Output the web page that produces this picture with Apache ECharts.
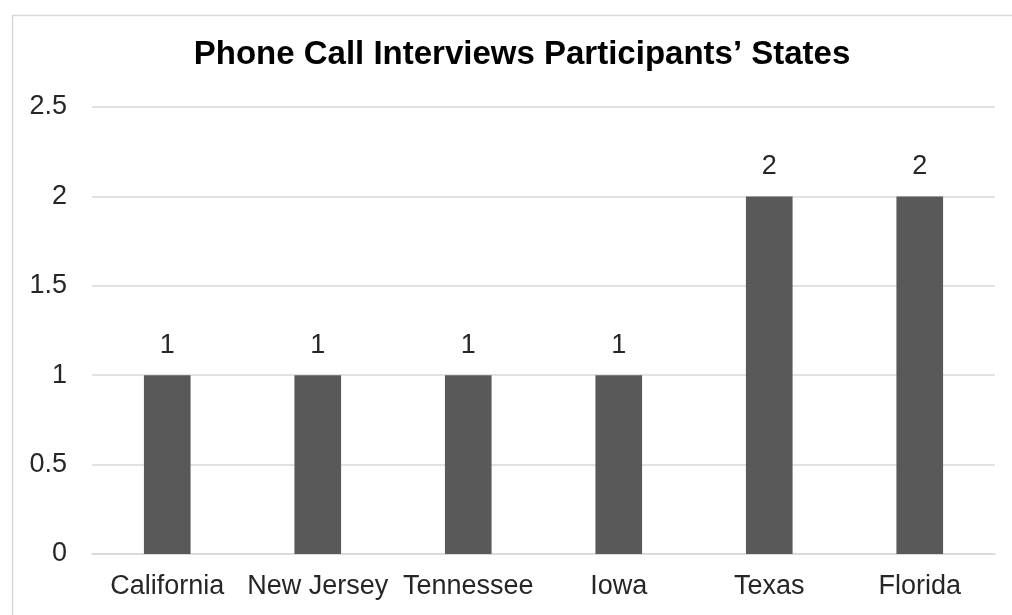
<!DOCTYPE html>
<html>
<head>
<meta charset="utf-8">
<script src="https://cdn.jsdelivr.net/npm/echarts@6/dist/echarts.min.js"></script>
<style>
  html, body { margin: 0; padding: 0; background: #ffffff; }
  #chart { width: 1012px; height: 615px; }
</style>
</head>
<body>
<div id="chart"></div>
<script>
// Participants per state
const states = ['California', 'New Jersey', 'Tennessee', 'Iowa', 'Texas', 'Florida'];
const participants = [1, 1, 1, 1, 2, 2];
const yTicks = [0, 0.5, 1, 1.5, 2, 2.5];

const chart = echarts.init(document.getElementById('chart'), null, { renderer: 'canvas' });

const textColor = '#262626';
const font = 'Liberation Sans, Arial, sans-serif';

chart.setOption({
  animation: false,
  backgroundColor: '#ffffff',
  title: {
    text: 'Phone Call Interviews Participants\u2019 States',
    left: 517,
    top: 33,
    textAlign: 'center',
    textStyle: {
      fontFamily: font,
      fontSize: 33,
      fontWeight: 'bold',
      color: '#000000'
    }
  },
  graphic: [{
    type: 'rect',
    left: 10,
    top: 13,
    shape: { width: 1100, height: 700 },
    style: { fill: 'none', stroke: '#d9d9d9', lineWidth: 1.5 },
    silent: true,
    z: -1
  }],
  grid: {
    left: 92,
    right: 17,
    top: 107,
    bottom: 61,
    containLabel: false
  },
  xAxis: {
    type: 'category',
    data: states,
    axisLine: { show: true, lineStyle: { color: '#d9d9d9', width: 1.5 } },
    axisTick: { show: false },
    axisLabel: {
      margin: 19,
      interval: 0,
      color: textColor,
      fontFamily: font,
      fontSize: 27
    }
  },
  yAxis: {
    type: 'value',
    min: yTicks[0],
    max: yTicks[yTicks.length - 1],
    interval: yTicks[1] - yTicks[0],
    axisLine: { show: false },
    axisTick: { show: false },
    splitLine: { show: true, lineStyle: { color: '#d9d9d9', width: 1.5 } },
    axisLabel: {
      margin: 25,
      color: textColor,
      fontFamily: font,
      fontSize: 27,
      formatter: function (v) { return String(v); }
    }
  },
  series: [{
    type: 'bar',
    data: participants,
    barWidth: '31%',
    itemStyle: { color: '#595959' },
    label: {
      show: true,
      position: 'top',
      distance: 16,
      color: textColor,
      fontFamily: font,
      fontSize: 27
    }
  }]
});
</script>
</body>
</html>
